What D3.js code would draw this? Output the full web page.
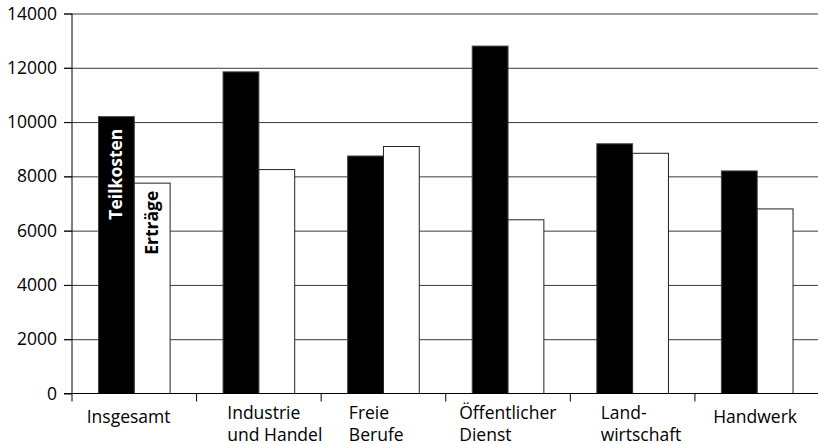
<!DOCTYPE html>
<html>
<head>
<meta charset="utf-8">
<script src="https://cdn.jsdelivr.net/npm/d3@7"></script>
<style>
  html, body { margin: 0; padding: 0; background: #fff; }
  svg { display: block; font-family: "Open Sans", "Noto Sans", sans-serif; }
</style>
</head>
<body>
<svg id="chart" width="818" height="444"></svg>
<script>
// Kategorien (mehrzeilige Beschriftungen als Zeilenlisten)
const categories = ["Insgesamt", "Industrie und Handel", "Freie Berufe", "Öffentlicher Dienst", "Landwirtschaft", "Handwerk"];
const categoryLines = [["Insgesamt"], ["Industrie", "und Handel"], ["Freie", "Berufe"], ["Öffentlicher", "Dienst"], ["Land-", "wirtschaft"], ["Handwerk"]];
const seriesNames = ["Teilkosten", "Erträge"];
const teilkosten = [10200, 11850, 8750, 12800, 9200, 8200];
const ertraege = [7750, 8250, 9100, 6400, 8850, 6800];
const yTicks = [0, 2000, 4000, 6000, 8000, 10000, 12000, 14000];

// Layout
const W = 818, H = 444;
const mLeft = 72, mRight = 819.5, mTop = 13.5, mBottom = 393.5;
// horizontaler Einzug der Kategoriebeschriftungen ab Bandanfang
const labelIndent = [14.7, 30.7, 27.7, 13.5, 30.3, 18.3];

const svg = d3.select("#chart");

const x = d3.scaleBand().domain(categories).range([mLeft, mRight]).paddingInner(0).paddingOuter(0);
const groupWidth = x.bandwidth() * 0.575;
const xs = d3.scaleBand().domain(seriesNames).range([0, groupWidth]).padding(0);
const y = d3.scaleLinear().domain([0, 14000]).range([mBottom, mTop]);

// Gitterlinien inkl. äußerer Teilstriche
const grid = svg.append("g")
  .attr("transform", `translate(${mLeft},0)`)
  .call(d3.axisLeft(y).tickValues(yTicks.filter(v => v > 0)).tickSizeInner(-(mRight - mLeft)).tickSizeOuter(0).tickFormat(""));
grid.select(".domain").remove();
grid.selectAll(".tick line").attr("stroke", "#3a3a3a").attr("stroke-width", 1).attr("x1", -8);

// Balken
const rows = categories.map((c, i) => ({ c, values: [
  { s: seriesNames[0], v: teilkosten[i] },
  { s: seriesNames[1], v: ertraege[i] }
]}));

const groups = svg.append("g").selectAll("g")
  .data(rows).join("g")
  .attr("transform", d => `translate(${x(d.c) + (x.bandwidth() - groupWidth) / 2},0)`);

groups.selectAll("rect")
  .data(d => d.values).join("rect")
  .attr("x", d => xs(d.s))
  .attr("width", xs.bandwidth())
  .attr("y", d => y(d.v))
  .attr("height", d => y(0) - y(d.v))
  .attr("fill", d => d.s === "Teilkosten" ? "#000" : "#fff")
  .attr("stroke", d => d.s === "Teilkosten" ? "#444" : "#222")
  .attr("stroke-width", 1);

// Serienbeschriftungen in den Balken der ersten Gruppe
const g0 = groups.filter((d, i) => i === 0);
const legendGap = { "Teilkosten": 12, "Erträge": 7.5 };
g0.selectAll("text.series")
  .data(d => d.values).join("text")
  .attr("class", "series")
  .attr("transform", d => `translate(${xs(d.s) + xs.bandwidth() / 2 + 5.5},${y(d.v) + legendGap[d.s]}) rotate(-90)`)
  .attr("text-anchor", "end")
  .attr("font-size", 17.5)
  .attr("font-weight", 700)
  .attr("fill", d => d.s === "Teilkosten" ? "#fff" : "#000")
  .text(d => d.s);

// Y-Achse
const yAxis = svg.append("g")
  .attr("transform", `translate(${mLeft},0)`)
  .call(d3.axisLeft(y).tickValues(yTicks).tickSize(8).tickPadding(7).tickFormat(d3.format("d")));
yAxis.select(".domain").remove();
yAxis.selectAll(".tick line").attr("stroke", "#000");
yAxis.selectAll("text").attr("font-size", 17.5).attr("fill", "#000").attr("font-family", "Open Sans, sans-serif");
svg.append("line").attr("x1", mLeft).attr("x2", mLeft).attr("y1", mTop).attr("y2", mBottom + 8)
  .attr("stroke", "#000").attr("stroke-width", 1);

// X-Achse
svg.append("line").attr("x1", mLeft - 8).attr("x2", mRight).attr("y1", mBottom).attr("y2", mBottom)
  .attr("stroke", "#000").attr("stroke-width", 1);
svg.append("g").selectAll("line")
  .data(categories.slice(1)).join("line")
  .attr("x1", d => x(d)).attr("x2", d => x(d))
  .attr("y1", mBottom).attr("y2", mBottom + 8)
  .attr("stroke", "#000").attr("stroke-width", 1);

// Kategoriebeschriftungen
svg.append("g").selectAll("text")
  .data(categories).join("text")
  .attr("x", (d, i) => x(d) + labelIndent[i])
  .attr("y", (d, i) => categoryLines[i].length === 1 ? 422.5 : 418.5)
  .attr("font-size", 17.5)
  .attr("fill", "#000")
  .each(function(d, i) {
    d3.select(this).selectAll("tspan")
      .data(categoryLines[i]).join("tspan")
      .attr("x", x(d) + labelIndent[i])
      .attr("dy", (t, j) => j === 0 ? 0 : 22)
      .text(t => t);
  });
</script>
</body>
</html>
